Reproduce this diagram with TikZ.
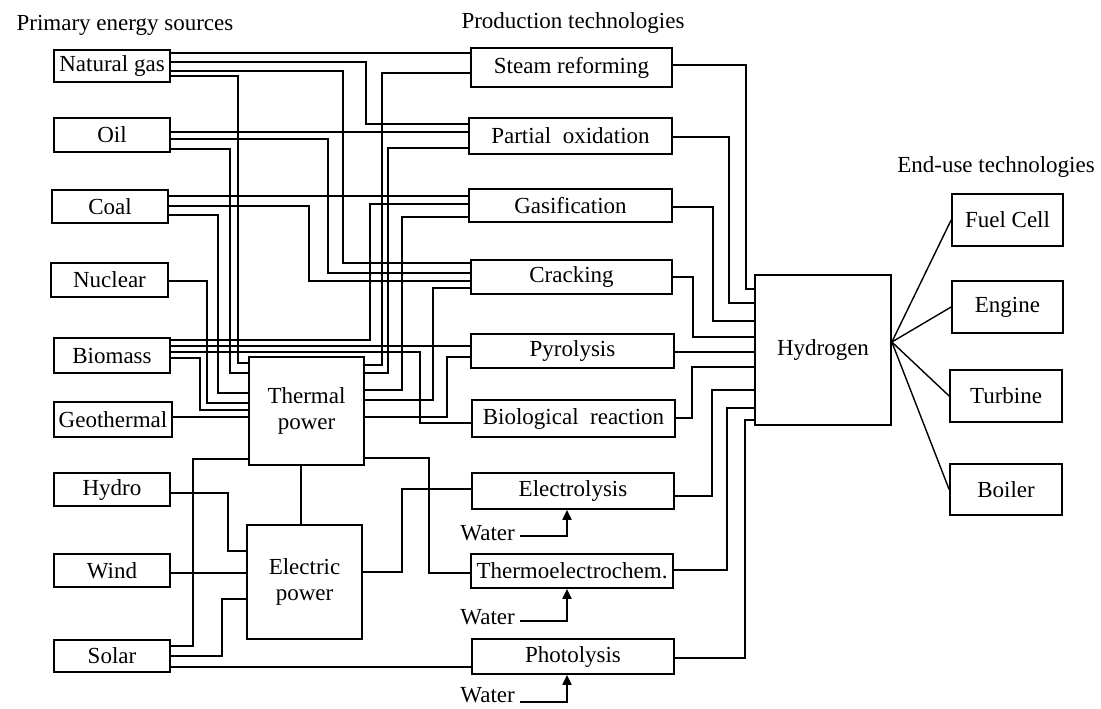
\documentclass[tikz,border=0pt]{standalone}
\usepackage{fontspec}
\setmainfont{Liberation Serif}
\usetikzlibrary{arrows.meta,calc}
\begin{document}
\begin{tikzpicture}[x=1pt,y=-1pt,
  box/.style={draw, line width=1.7pt, inner sep=0pt, align=center, font=\fontsize{23}{26}\selectfont},
  wire/.style={line width=1.9pt},
  thin wire/.style={line width=1.4pt},
  lbl/.style={font=\fontsize{23}{26}\selectfont, inner sep=2pt},
  arr/.style={-{Triangle[width=9pt,length=10pt]}}]
\useasboundingbox (0,0) rectangle (1101,709);
% titles
\node[lbl] (t1) at (125,25) {Primary energy sources};
\node[lbl] (t2) at (573,23) {Production technologies};
\node[lbl] (t3) at (996,167) {End-use technologies};
% sources
\node[box, minimum width=116pt, minimum height=32pt] (ng) at (112,66) {Natural gas};
\node[box, minimum width=116pt, minimum height=34pt] (oil) at (112,135) {Oil};
\node[box, minimum width=116pt, minimum height=33pt] (coal) at (110,206.5) {Coal};
\node[box, minimum width=117pt, minimum height=34pt] (nuc) at (109.5,280) {Nuclear};
\node[box, minimum width=116pt, minimum height=35pt] (bio) at (112,355.5) {Biomass};
\node[box, minimum width=118pt, minimum height=35pt] (geo) at (113,419.5) {Geothermal};
\node[box, minimum width=116pt, minimum height=33pt] (hydro) at (112,489.5) {Hydro};
\node[box, minimum width=116pt, minimum height=33pt] (wind) at (112,570.5) {Wind};
\node[box, minimum width=116pt, minimum height=32pt] (solar) at (112,656) {Solar};
% intermediate
\node[box, minimum width=115pt, minimum height=108pt] (th) at (306.5,411) {Thermal\\power};
\node[box, minimum width=115pt, minimum height=114pt] (el) at (304.5,582) {Electric\\power};
% production
\node[box, minimum width=201pt, minimum height=39pt] (sr) at (571.5,67.5) {Steam reforming};
\node[box, minimum width=203pt, minimum height=36pt] (po) at (570.5,136) {Partial\hspace{0.5em}oxidation};
\node[box, minimum width=203pt, minimum height=33pt] (gas) at (570.5,205.5) {Gasification};
\node[box, minimum width=201pt, minimum height=34pt] (crack) at (571.5,277) {Cracking};
\node[box, minimum width=203pt, minimum height=34pt] (pyro) at (572.5,351) {Pyrolysis};
\node[box, minimum width=203pt, minimum height=37pt] (bioreac) at (573.5,418.5) {Biological\hspace{0.5em}reaction};
\node[box, minimum width=202pt, minimum height=36pt] (elec) at (573,491) {Electrolysis};
\node[box, minimum width=202pt, minimum height=34pt] (thermo) at (572,571) {Thermoelectrochem.};
\node[box, minimum width=202pt, minimum height=35pt] (photo) at (573,656.5) {Photolysis};
% hydrogen and end use
\node[box, minimum width=136pt, minimum height=150pt] (h) at (823,350) {Hydrogen};
\node[box, minimum width=111pt, minimum height=52pt] (fc) at (1007.5,220) {Fuel Cell};
\node[box, minimum width=111pt, minimum height=52pt] (eng) at (1007.5,307) {Engine};
\node[box, minimum width=112pt, minimum height=52pt] (turb) at (1006,396) {Turbine};
\node[box, minimum width=112pt, minimum height=51pt] (boil) at (1006,489.5) {Boiler};
% water
\node[lbl, anchor=east, inner sep=5pt] (w1) at (520,533) {Water};
\node[lbl, anchor=east, inner sep=5pt] (w2) at (520,617) {Water};
\node[lbl, anchor=east, inner sep=5pt] (w3) at (520,695) {Water};
\draw[wire,arr] (w1.east |- 0,536) -| ([xshift=-6pt]elec.south);
\draw[wire,arr] (w2.east |- 0,621) -| ([xshift=-5pt]thermo.south);
\draw[wire,arr] (w3.east |- 0,702) -| ([xshift=-6pt]photo.south);
% natural gas
\draw[wire] (ng.east |- 0,53) -- (sr.west |- 0,53);
\draw[wire] (ng.east |- 0,62) -| (366,124) -- (po.west |- 0,124);
\draw[wire] (ng.east |- 0,71) -| (343,263) -- (crack.west |- 0,263);
\draw[wire] (ng.east |- 0,76) -| (238,363) -- (th.west |- 0,363);
% oil
\draw[wire] (oil.east |- 0,132) -- (po.west |- 0,132);
\draw[wire] (oil.east |- 0,139) -| (328,273) -- (crack.west |- 0,273);
\draw[wire] (oil.east |- 0,149) -| (230,373) -- (th.west |- 0,373);
% coal
\draw[wire] (coal.east |- 0,196) -- (gas.west |- 0,196);
\draw[wire] (coal.east |- 0,206) -| (309,281) -- (crack.west |- 0,281);
\draw[wire] (coal.east |- 0,215) -| (218,393) -- (th.west |- 0,393);
% nuclear
\draw[wire] (nuc.east |- 0,281) -| (207,403) -- (th.west |- 0,403);
% biomass
\draw[wire] (bio.east |- 0,340) -| (370,204) -- (gas.west |- 0,204);
\draw[wire] (bio.east |- 0,346) -- (pyro.west |- 0,346);
\draw[wire] (bio.east |- 0,352) -| (420,423) -- (bioreac.west |- 0,423);
\draw[wire] (bio.east |- 0,358) -| (200,410) -- (th.west |- 0,410);
% geothermal
\draw[wire] (geo.east |- 0,417) -- (th.west |- 0,417);
% thermal power outputs
\draw[wire] (th.east |- 0,365) -| (382,73) -- (sr.west |- 0,73);
\draw[wire] (th.east |- 0,373) -| (388,148) -- (po.west |- 0,148);
\draw[wire] (th.east |- 0,390) -| (402,217) -- (gas.west |- 0,217);
\draw[wire] (th.east |- 0,400) -| (433,288) -- (crack.west |- 0,288);
\draw[wire] (th.east |- 0,417) -| (447,357) -- (pyro.west |- 0,357);
\draw[wire] (th.east |- 0,458) -| (429,573) -- (thermo.west |- 0,573);
\draw[wire] (th.south -| 301,0) -- (el.north -| 301,0);
% solar, hydro, wind
\draw[wire] (solar.east |- 0,646) -| (193,459) -- (th.west |- 0,459);
\draw[wire] (hydro.east |- 0,493) -| (228,551) -- (el.west |- 0,551);
\draw[wire] (wind.east |- 0,573) -- (el.west |- 0,573);
\draw[wire] (solar.east |- 0,656) -| (222,599) -- (el.west |- 0,599);
\draw[wire] (solar.east |- 0,667) -- (photo.west |- 0,667);
% electric power
\draw[wire] (el.east |- 0,572) -| (402,489) -- (elec.west |- 0,489);
% production to hydrogen
\draw[wire] (sr.east |- 0,65) -| (746,289) -- (h.west |- 0,289);
\draw[wire] (po.east |- 0,137) -| (729,303) -- (h.west |- 0,303);
\draw[wire] (gas.east |- 0,207) -| (713,321) -- (h.west |- 0,321);
\draw[wire] (crack.east |- 0,277) -| (693,337) -- (h.west |- 0,337);
\draw[wire] (pyro.east |- 0,352) -- (h.west |- 0,352);
\draw[wire] (bioreac.east |- 0,418) -| (692,367) -- (h.west |- 0,367);
\draw[wire] (elec.east |- 0,496) -| (712,390) -- (h.west |- 0,390);
\draw[wire] (thermo.east |- 0,570) -| (727,408) -- (h.west |- 0,408);
\draw[wire] (photo.east |- 0,658) -| (745,420) -- (h.west |- 0,420);
% hydrogen to end use
\coordinate (hx) at (h.east |- 0,342);
\draw[thin wire] (hx) -- (fc.west);
\draw[thin wire] (hx) -- (eng.west);
\draw[thin wire] (hx) -- (turb.west);
\draw[thin wire] (hx) -- (boil.west);
\end{tikzpicture}
\end{document}
